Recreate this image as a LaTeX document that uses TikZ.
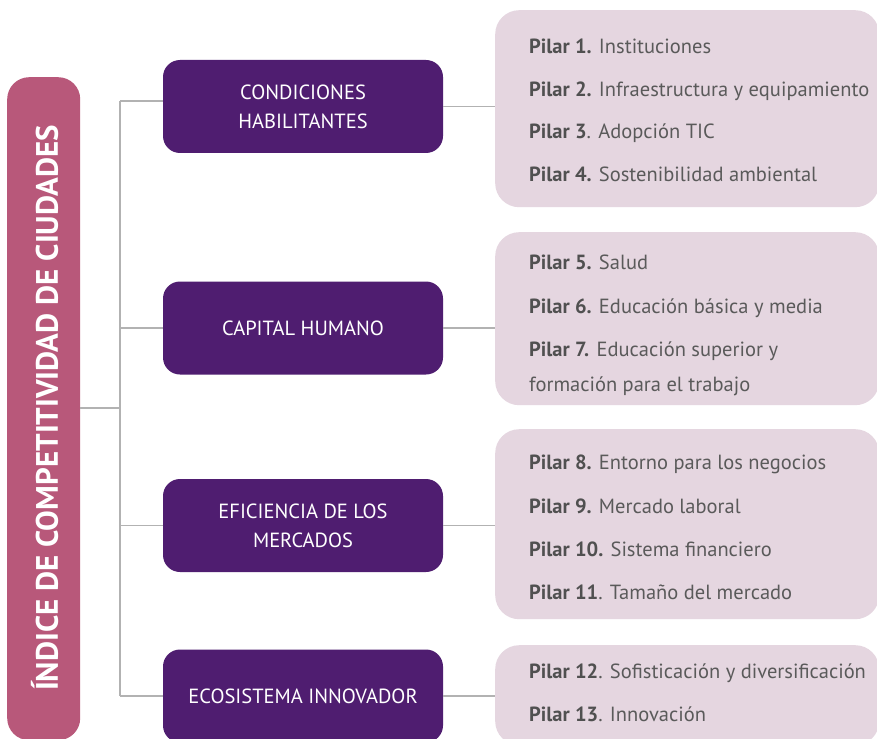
\documentclass[tikz,border=0pt]{standalone}
\usepackage{fontspec}
\setmainfont{PT Sans}
\definecolor{barpink}{RGB}{184,88,122}
\definecolor{deeppurple}{RGB}{79,29,112}
\definecolor{lightmauve}{RGB}{229,214,224}
\definecolor{txtgrey}{RGB}{90,90,90}
\definecolor{boldgrey}{RGB}{80,80,80}
\definecolor{linegrey}{RGB}{178,178,178}
\newcommand{\pb}[1]{\textbf{\color{boldgrey}#1}}
\begin{document}
\begin{tikzpicture}[x=1pt,y=-1pt,
  catbox/.style={fill=deeppurple, rounded corners=17pt, minimum width=280pt, minimum height=93pt, inner sep=0pt, text=white, font=\fontsize{20.5}{29}\selectfont, align=center},
  pilbox/.style={fill=lightmauve, rounded corners=24pt, inner sep=0pt, anchor=north west, minimum width=384pt},
  pil/.style={anchor=base west, inner sep=0pt, text=txtgrey, font=\fontsize{20.5}{24}\selectfont},
  link/.style={draw=linegrey, line width=1.2pt}]
\useasboundingbox (0,0) rectangle (877,738);
\fill[white] (0,0) rectangle (877,738);
% index bar
\node[fill=barpink, rounded corners=22pt, minimum width=73pt, minimum height=663pt, inner sep=0pt, anchor=north west] (idx) at (7,77) {};
\node[rotate=90, text=white, inner sep=0pt, font=\fontsize{31}{31}\selectfont\bfseries] (title) at (44.5,408) {ÍNDICE DE COMPETITIVIDAD DE CIUDADES};
% categories
\node[catbox] (c1) at (303,106.5) {CONDICIONES\\HABILITANTES};
\node[catbox] (c2) at (303,328) {CAPITAL HUMANO};
\node[catbox] (c3) at (303,525.5) {EFICIENCIA DE LOS\\MERCADOS};
\node[catbox] (c4) at (303,696) {ECOSISTEMA INNOVADOR};
% pillar groups
\node[pilbox, minimum height=197pt] (g1) at (495,10) {};
\node[pilbox, minimum height=173pt] (g2) at (495,232) {};
\node[pilbox, minimum height=190pt] (g3) at (495,429) {};
\node[pilbox, minimum height=100pt] (g4) at (495,645) {};
% pillar texts
\node[pil] (p1) at (529,54) {\pb{Pilar 1.} Instituciones};
\node[pil] (p2) at (529,96.5) {\pb{Pilar 2.} Infraestructura y equipamiento};
\node[pil] (p3) at (529,139) {\pb{Pilar 3}. Adopción TIC};
\node[pil] (p4) at (529,181.5) {\pb{Pilar 4.} Sostenibilidad ambiental};
\node[pil] (p5) at (529,269) {\pb{Pilar 5.} Salud};
\node[pil] (p6) at (529,313) {\pb{Pilar 6.} Educación básica y media};
\node[pil] (p7) at (529,356) {\pb{Pilar 7.} Educación superior y};
\node[pil] (p7b) at (529,391) {formación para el trabajo};
\node[pil] (p8) at (529,469) {\pb{Pilar 8.} Entorno para los negocios};
\node[pil] (p9) at (529,513) {\pb{Pilar 9.} Mercado laboral};
\node[pil] (p10) at (529,556) {\pb{Pilar 10.} Sistema financiero};
\node[pil] (p11) at (529,599) {\pb{Pilar 11}. Tamaño del mercado};
\node[pil] (p12) at (529,678) {\pb{Pilar 12}. Sofisticación y diversificación};
\node[pil] (p13) at (529,721) {\pb{Pilar 13}. Innovación};
% connectors
\coordinate (hub) at (120,408);
\coordinate (t1) at (120,101);
\coordinate (t4) at (120,696);
\draw[link] (idx.east |- hub) -- (hub);
\draw[link] (t1) -- (t4);
\draw[link] (t1) -- (c1.west |- t1);
\draw[link] (c2.west -| hub) -- (c2.west);
\draw[link] (c3.west -| hub) -- (c3.west);
\draw[link] (t4) -- (c4.west |- t4);
\draw[link] (c1.east) -- (c1.east -| g1.west);
\draw[link] (c2.east) -- (c2.east -| g2.west);
\draw[link] (c3.east) -- (c3.east -| g3.west);
\draw[link] (c4.east) -- (c4.east -| g4.west);
\end{tikzpicture}
\end{document}
